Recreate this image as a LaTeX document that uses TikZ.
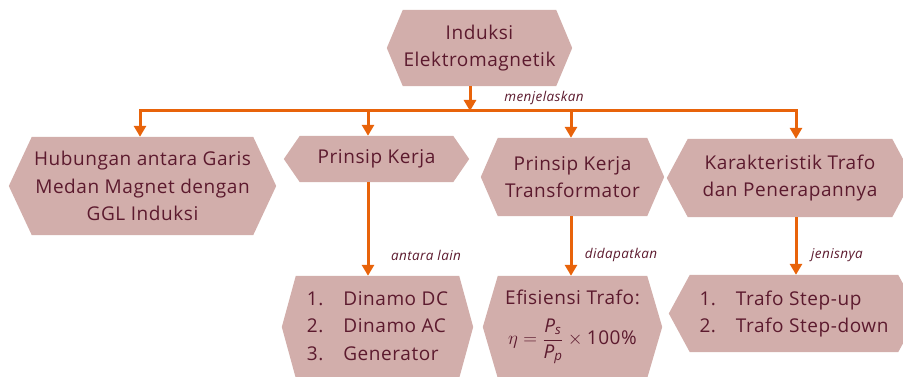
\documentclass[tikz,border=0pt]{standalone}
\usepackage{fix-cm}
\usepackage{amsmath}
\usepackage{fontspec}
\setmainfont{Open Sans}[LetterSpace=3]
\usetikzlibrary{arrows.meta,backgrounds}
\definecolor{hexfill}{RGB}{210,174,171}
\definecolor{txtred}{RGB}{92,26,46}
\definecolor{arrorange}{RGB}{232,99,10}
\tikzset{
  box/.style={inner sep=0pt, align=center, text=txtred, font=\fontsize{19}{27.5}\selectfont},
  lbl/.style={text=txtred, font=\fontsize{13.5}{16}\selectfont\itshape},
  bar/.style={draw=arrorange, line width=3pt, line cap=rect},
  arr/.style={draw=arrorange, line width=3pt, -{Triangle[width=12pt,length=11pt]}}
}
\begin{document}
\begin{tikzpicture}[x=1pt,y=-1pt]
\useasboundingbox (0,0) rectangle (903,377);
% boxes
\node[box, minimum width=153, minimum height=76] (T) at (479.5,48) {Induksi\\Elektromagnetik};
\node[box, minimum width=221, minimum height=98] (A) at (142.5,186) {Hubungan antara Garis\\Medan Magnet dengan\\GGL Induksi};
\node[box, minimum width=153, minimum height=46] (B) at (376.5,159) {Prinsip Kerja};
\node[box, minimum width=149, minimum height=78] (C) at (572.5,177) {Prinsip Kerja\\Transformator};
\node[box, minimum width=204, minimum height=78] (D) at (790,178) {Karakteristik Trafo\\dan Penerapannya};
\node[box, minimum width=163, minimum height=102] (E) at (377.5,327) {%
  \begin{tabular}{@{}l@{\hspace{20pt}}l@{}}
  1. & Dinamo DC\\ 2. & Dinamo AC\\ 3. & Generator
  \end{tabular}};
\node[box, minimum width=149, minimum height=102] (F) at (572.5,327) {Efisiensi Trafo:\\[13pt]
  $\eta = \dfrac{\textit{P}_{\textit{s}}}{\textit{P}_{\textit{p}}}\times\text{100\%}$};
\node[box, minimum width=208, minimum height=77] (G) at (794,313.5) {%
  \begin{tabular}{@{}l@{\hspace{20pt}}l@{}}
  1. & Trafo Step-up\\ 2. & Trafo Step-down
  \end{tabular}};
\begin{scope}[on background layer]
\foreach \n/\d in {T/16,A/23,B/16,C/17,D/21,E/14,F/15,G/21}
  \fill[hexfill] (\n.north west) -- (\n.north east) -- ([xshift=\d]\n.east)
    -- (\n.south east) -- (\n.south west) -- ([xshift=-\d]\n.west) -- cycle;
\end{scope}
% connectors
\coordinate (hub) at (470,111);
\coordinate (cA) at (140,111);
\coordinate (cB) at (368,111);
\coordinate (cC) at (571,111);
\coordinate (cD) at (796,111);
\draw[bar] (cA) -- (cD);
\draw[arr] (hub |- T.south) -- (hub);
\draw[arr] (cA) -- (cA |- A.north);
\draw[arr] (cB) -- (cB |- B.north);
\draw[arr] (cC) -- (cC |- C.north);
\draw[arr] (cD) -- (cD |- D.north);
\draw[arr] (cB |- B.south) -- (cB |- E.north);
\draw[arr] (cC |- C.south) -- (cC |- F.north);
\draw[arr] (cD |- D.south) -- (cD |- G.north);
% labels
\node[lbl] (lMen) at (544,98) {menjelaskan};
\node[lbl] (lAnt) at (426,255) {antara lain};
\node[lbl] (lDid) at (621,255) {didapatkan};
\node[lbl] (lJen) at (837,255) {jenisnya};
\end{tikzpicture}
\end{document}
